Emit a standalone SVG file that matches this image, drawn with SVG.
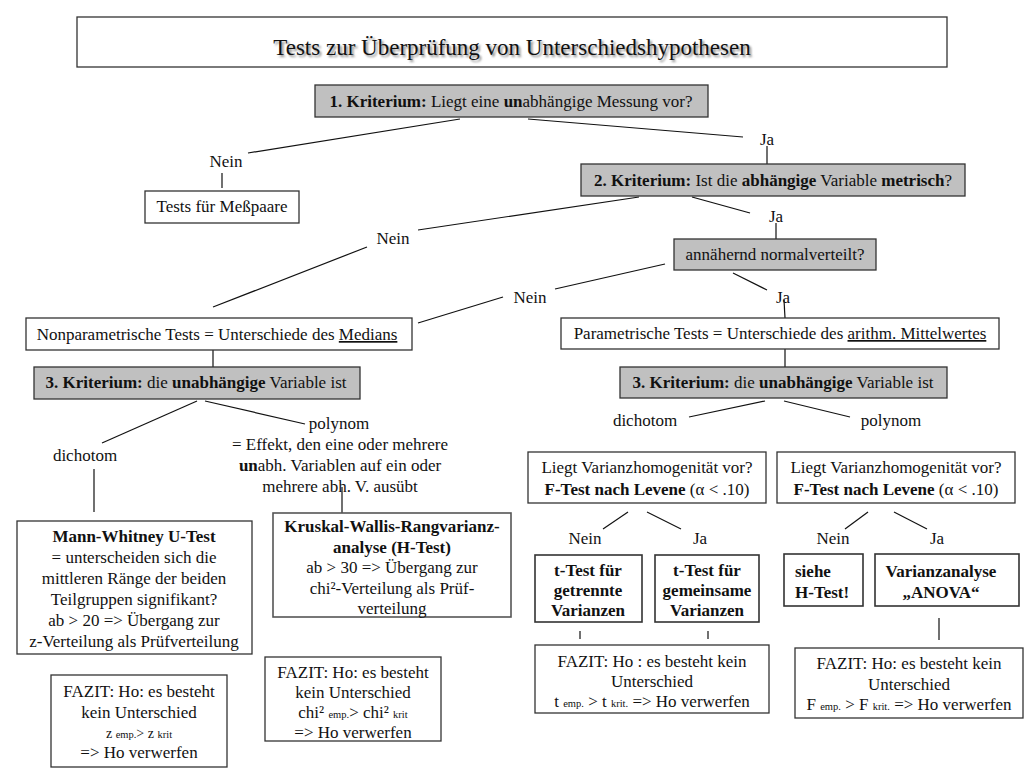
<svg xmlns="http://www.w3.org/2000/svg" width="1024" height="768" viewBox="0 0 1024 768" font-family="'Liberation Serif', 'DejaVu Serif', serif">
<defs>
<style>
.t{font-family:'Liberation Serif','Times New Roman','DejaVu Serif',serif;font-size:17px;fill:#111}
.c{text-anchor:middle}
.b{font-weight:bold}
.sm{font-size:10.5px}
.box{fill:#fff;stroke:#333;stroke-width:1.3}
.gbox{fill:#c0c0c0;stroke:#333;stroke-width:1.3}
.ln{stroke:#111;stroke-width:1.2;fill:none}
</style>
<filter id="sh" x="-5%" y="-30%" width="110%" height="160%">
<feGaussianBlur stdDeviation="1"/>
</filter>
</defs>
<rect width="1024" height="768" fill="#fff"/>

<g id="title">
<rect class="box" x="77" y="17" width="870" height="50"/>
<text class="t c" x="514" y="57" style="font-size:23px;fill:#888" filter="url(#sh)">Tests zur Überprüfung von Unterschiedshypothesen</text>
<text class="t c" x="512" y="55" style="font-size:23px">Tests zur Überprüfung von Unterschiedshypothesen</text>
</g>

<g id="connectors">
<line class="ln" x1="460" y1="119" x2="248" y2="153"/>
<line class="ln" x1="222" y1="173" x2="222" y2="188"/>
<line class="ln" x1="528" y1="119" x2="743" y2="137"/>
<line class="ln" x1="767" y1="146" x2="767" y2="164"/>
<line class="ln" x1="639" y1="197" x2="418" y2="230"/>
<line class="ln" x1="367" y1="247" x2="213" y2="307"/>
<line class="ln" x1="692" y1="197" x2="750" y2="213"/>
<line class="ln" x1="776" y1="223" x2="776" y2="239"/>
<line class="ln" x1="665" y1="264" x2="555" y2="289"/>
<line class="ln" x1="503" y1="297" x2="418" y2="323"/>
<line class="ln" x1="733" y1="273" x2="767" y2="290"/>
<line class="ln" x1="784" y1="300" x2="785" y2="318"/>
<line class="ln" x1="213" y1="350" x2="213" y2="367"/>
<line class="ln" x1="785" y1="349" x2="785" y2="367"/>
<line class="ln" x1="197" y1="401" x2="102" y2="443"/>
<line class="ln" x1="205" y1="401" x2="305" y2="424"/>
<line class="ln" x1="94" y1="469" x2="94" y2="512"/>
<line class="ln" x1="342" y1="487" x2="342" y2="514"/>
<line class="ln" x1="765" y1="401" x2="689" y2="417"/>
<line class="ln" x1="784" y1="401" x2="850" y2="417"/>
<line class="ln" x1="628" y1="512" x2="603" y2="529"/>
<line class="ln" x1="647" y1="512" x2="681" y2="529"/>
<line class="ln" x1="868" y1="512" x2="845" y2="529"/>
<line class="ln" x1="894" y1="512" x2="927" y2="529"/>
<line class="ln" x1="580" y1="631" x2="580" y2="639"/>
<line class="ln" x1="708" y1="631" x2="708" y2="639"/>
<line class="ln" x1="939" y1="618" x2="939" y2="640"/>
</g>

<g id="labels">
<text class="t c" x="226" y="167">Nein</text>
<text class="t c" x="767" y="145">Ja</text>
<text class="t c" x="393" y="244">Nein</text>
<text class="t c" x="776" y="222">Ja</text>
<text class="t c" x="530" y="303">Nein</text>
<text class="t c" x="783" y="303">Ja</text>
<text class="t c" x="85" y="461">dichotom</text>
<text class="t c" x="339" y="429">polynom</text>
<text class="t c" x="340" y="450">= Effekt, den eine oder mehrere</text>
<text class="t c" x="340" y="471"><tspan class="b">un</tspan>abh. Variablen auf ein oder</text>
<text class="t c" x="340" y="492">mehrere abh. V. ausübt</text>
<text class="t c" x="645" y="426">dichotom</text>
<text class="t c" x="891" y="426">polynom</text>
<text class="t c" x="585" y="544">Nein</text>
<text class="t c" x="700" y="544">Ja</text>
<text class="t c" x="833" y="544">Nein</text>
<text class="t c" x="937" y="544">Ja</text>
</g>

<g id="k1">
<rect class="gbox" x="315" y="85" width="393" height="32"/>
<text class="t c" x="511" y="107"><tspan class="b">1. Kriterium:</tspan> Liegt eine <tspan class="b">un</tspan>abhängige Messung vor?</text>
</g>

<g id="messpaare">
<rect class="box" x="145" y="191" width="154" height="32"/>
<text class="t c" x="222" y="212">Tests für Meßpaare</text>
</g>

<g id="k2">
<rect class="gbox" x="581" y="164" width="384" height="32"/>
<text class="t c" x="773" y="186"><tspan class="b">2. Kriterium:</tspan> Ist die <tspan class="b">abhängige</tspan> Variable <tspan class="b">metrisch</tspan>?</text>
</g>

<g id="normal">
<rect class="gbox" x="674" y="239" width="202" height="31"/>
<text class="t c" x="775" y="260">annähernd normalverteilt?</text>
</g>

<g id="nonparam">
<rect class="box" x="26" y="318" width="386" height="32"/>
<text class="t c" x="217" y="340">Nonparametrische Tests = Unterschiede des <tspan text-decoration="underline">Medians</tspan></text>
</g>

<g id="param">
<rect class="box" x="561" y="318" width="438" height="31"/>
<text class="t c" x="780" y="339">Parametrische Tests = Unterschiede des <tspan text-decoration="underline">arithm. Mittelwertes</tspan></text>
</g>

<g id="k3left">
<rect class="gbox" x="34" y="367" width="326" height="32"/>
<text class="t c" x="196" y="388"><tspan class="b">3. Kriterium:</tspan> die <tspan class="b">unabhängige</tspan> Variable ist</text>
</g>

<g id="k3right">
<rect class="gbox" x="620" y="367" width="327" height="31"/>
<text class="t c" x="783" y="388"><tspan class="b">3. Kriterium:</tspan> die <tspan class="b">unabhängige</tspan> Variable ist</text>
</g>

<g id="mannwhitney">
<rect class="box" x="17" y="521" width="235" height="133"/>
<text class="t c b" x="134" y="542">Mann-Whitney U-Test</text>
<text class="t c" x="134" y="563">= unterscheiden sich die</text>
<text class="t c" x="134" y="584">mittleren Ränge der beiden</text>
<text class="t c" x="134" y="605">Teilgruppen signifikant?</text>
<text class="t c" x="134" y="626">ab &gt; 20 =&gt; Übergang zur</text>
<text class="t c" x="134" y="647">z-Verteilung als Prüfverteilung</text>
</g>

<g id="fazit1">
<rect class="box" x="51" y="675" width="176" height="92"/>
<text class="t c" x="139" y="697">FAZIT: Ho: es besteht</text>
<text class="t c" x="139" y="718">kein Unterschied</text>
<text class="t c" x="139" y="738" style="font-size:14px">z <tspan class="sm">emp.</tspan>&gt; z <tspan class="sm">krit</tspan></text>
<text class="t c" x="139" y="758">=&gt; Ho verwerfen</text>
</g>

<g id="kruskal">
<rect class="box" x="273" y="513" width="238" height="104" style="stroke:#555;stroke-width:1.6"/>
<text class="t c b" x="392" y="532">Kruskal-Wallis-Rangvarianz-</text>
<text class="t c b" x="392" y="553">analyse (H-Test)</text>
<text class="t c" x="392" y="573">ab &gt; 30 =&gt; Übergang zur</text>
<text class="t c" x="392" y="594">chi²-Verteilung als Prüf-</text>
<text class="t c" x="392" y="614">verteilung</text>
</g>

<g id="fazit2">
<rect class="box" x="265" y="657" width="176" height="84"/>
<text class="t c" x="353" y="678">FAZIT: Ho: es besteht</text>
<text class="t c" x="353" y="698">kein Unterschied</text>
<text class="t c" x="353" y="718">chi² <tspan class="sm">emp.</tspan>&gt; chi² <tspan class="sm">krit</tspan></text>
<text class="t c" x="353" y="738">=&gt; Ho verwerfen</text>
</g>

<g id="levene1">
<rect class="box" x="528" y="452" width="238" height="51"/>
<text class="t c" x="647" y="473">Liegt Varianzhomogenität vor?</text>
<text class="t c" x="647" y="495"><tspan class="b">F-Test nach Levene</tspan> (α &lt;  .10)</text>
</g>

<g id="tgetrennt">
<rect class="box" x="535" y="555" width="107" height="67" style="stroke-width:1.6"/>
<text class="t c b" x="588" y="576">t-Test für</text>
<text class="t c b" x="588" y="596">getrennte</text>
<text class="t c b" x="588" y="616">Varianzen</text>
</g>

<g id="tgemeinsam">
<rect class="box" x="655" y="555" width="104" height="67" style="stroke-width:1.6"/>
<text class="t c b" x="707" y="576">t-Test für</text>
<text class="t c b" x="707" y="596">gemeinsame</text>
<text class="t c b" x="707" y="616">Varianzen</text>
</g>

<g id="fazit3">
<rect class="box" x="535" y="645" width="234" height="68"/>
<text class="t c" x="652" y="667">FAZIT: Ho : es besteht kein</text>
<text class="t c" x="652" y="687">Unterschied</text>
<text class="t c" x="652" y="707">t <tspan class="sm">emp.</tspan> &gt; t <tspan class="sm">krit.</tspan> =&gt; Ho verwerfen</text>
</g>

<g id="levene2">
<rect class="box" x="777" y="452" width="238" height="51"/>
<text class="t c" x="896" y="473">Liegt Varianzhomogenität vor?</text>
<text class="t c" x="896" y="495"><tspan class="b">F-Test nach Levene</tspan> (α &lt;  .10)</text>
</g>

<g id="siehe">
<rect class="box" x="784" y="554" width="79" height="52" style="stroke-width:1.6"/>
<text class="t b" x="795" y="577">siehe</text>
<text class="t b" x="795" y="598">H-Test!</text>
</g>

<g id="anova">
<rect class="box" x="875" y="554" width="144" height="52" style="stroke-width:1.6"/>
<text class="t c b" x="941" y="577">Varianzanalyse</text>
<text class="t c b" x="941" y="598">„ANOVA“</text>
</g>

<g id="fazit4">
<rect class="box" x="795" y="648" width="228" height="70"/>
<text class="t c" x="909" y="669">FAZIT: Ho: es besteht kein</text>
<text class="t c" x="909" y="690">Unterschied</text>
<text class="t c" x="909" y="710">F <tspan class="sm">emp.</tspan> &gt; F <tspan class="sm">krit.</tspan> =&gt; Ho verwerfen</text>
</g>
</svg>
